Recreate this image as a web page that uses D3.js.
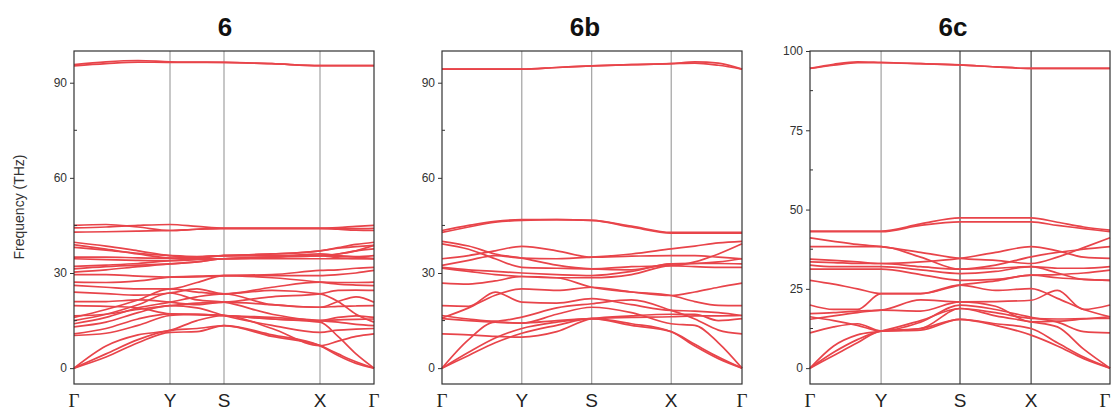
<!DOCTYPE html>
<html>
<head>
<meta charset="utf-8">
<script src="https://d3js.org/d3.v7.min.js"></script>
<style>
  body { margin: 0; background: #fff; }
  svg { display: block; }
</style>
</head>
<body>
<script type="text/javascript">

// ---- data ----
// high-symmetry labels along the path, and their path positions per panel
let kLabels = ["Γ", "Y", "S", "X", "Γ"];
let kpath6 = [0, 0.32, 0.5, 0.82, 1];
let kpath6b = [0, 0.266, 0.499, 0.764, 1];
let kpath6c = [0, 0.237, 0.5, 0.737, 1];

// each band: values (THz) at Γ, ΓY 1/3, ΓY 2/3, Y, YS 1/2, S, SX 1/2, X, XΓ 1/3, XΓ 2/3, Γ
let bands6 = [
  [0, 3.5, 8, 11.3, 11.5, 13.4, 10, 7.1, 4.5, 2, 0],
  [0, 4.5, 9, 11.9, 12.5, 13.4, 10.5, 7.1, 4, 1.5, 0],
  [0, 7, 10.5, 11.9, 15, 16.6, 12.5, 7.1, 8.5, 10, 10.8],
  [10.3, 11, 13.5, 16.6, 17, 16.6, 15.5, 14.5, 10, 4.5, 0],
  [10.8, 12.5, 15.5, 17.1, 17, 16.6, 16, 15, 14.5, 13.8, 13.4],
  [13, 14.5, 17.5, 19.7, 19, 16.6, 13.5, 11.3, 12, 12.3, 12.5],
  [14, 16, 19, 20.8, 22.5, 23.4, 20, 19.2, 19.5, 19.6, 19.7],
  [15, 17, 20, 23.7, 21.5, 20.8, 17, 15, 15.2, 15.4, 15.5],
  [16, 18.5, 21.5, 25, 24, 23.4, 24.5, 23.4, 21, 17, 14.5],
  [16.5, 17, 18.5, 19.7, 20.5, 20.8, 22.5, 23.4, 24.5, 24.6, 24.5],
  [19.7, 19.5, 19, 17.1, 16.8, 16.6, 15.5, 15, 16, 16.5, 16],
  [21, 21, 21.5, 20.8, 20, 20.8, 20, 19.2, 21, 22.5, 20.8],
  [24, 23.5, 23, 23.7, 25, 23.4, 25.5, 27.1, 27, 27, 27.1],
  [26.1, 25.5, 25, 25, 27, 29.2, 28.5, 27.1, 26.5, 26.2, 26],
  [27.1, 27, 27.5, 28.7, 29, 29.2, 29.2, 29.2, 29.5, 30, 30.8],
  [29.5, 29.5, 29, 28.7, 28.8, 29.2, 29.5, 30.8, 31, 31.5, 31.8],
  [30.3, 31, 32, 32.9, 33.5, 34.5, 34.5, 34.5, 34.5, 34.5, 34.5],
  [31.3, 32, 32.5, 32.9, 33.5, 34.5, 35, 35.5, 36, 37, 37.6],
  [32.1, 32.5, 33, 33.9, 34.5, 35.5, 35.5, 35.5, 35.3, 35.2, 35.5],
  [34.5, 34.2, 34, 33.9, 34.2, 34.5, 35, 36, 35.5, 35, 34.5],
  [35, 35, 34.8, 34.7, 35, 35.5, 36, 37, 37.8, 38.3, 38.7],
  [38.1, 37.2, 36.2, 35.5, 35.2, 35.5, 36, 37, 38, 39, 39.7],
  [38.9, 37.5, 36, 34.7, 34.5, 34.5, 35, 35.5, 34.8, 34.6, 34.5],
  [39.7, 38.5, 37, 35.5, 35, 35.5, 35.5, 35.5, 36, 37, 38.7],
  [42.9, 43, 43.2, 43.4, 43.8, 44.1, 44.1, 44.1, 43.8, 43.5, 43.4],
  [44.2, 44.5, 45, 45.3, 44.7, 44.1, 44.1, 44.1, 44.3, 44.7, 45],
  [45, 45.3, 44.5, 43.4, 43.8, 44.1, 44.1, 44.1, 44, 44, 44.1],
  [95.3, 96, 96.5, 96.4, 96.4, 96.4, 96, 95.4, 95.4, 95.4, 95.4],
  [95.7, 96.6, 97, 96.6, 96.5, 96.4, 96, 95.4, 95.4, 95.4, 95.4]
];

let bands6b = [
  [0, 4, 8, 11, 13.5, 15.6, 13.5, 11.5, 7.5, 3.5, 0],
  [0, 5, 9.5, 12.5, 14.5, 15.6, 14, 11.5, 7, 3, 0],
  [0, 9, 14.5, 14.2, 17, 19.2, 17.5, 14, 13.5, 8, 0],
  [10.8, 10.5, 10, 9.8, 11.5, 15.6, 16.5, 17, 17, 15, 15.6],
  [15.6, 15, 14.5, 14.2, 15, 15.6, 16, 16.2, 16.5, 16.5, 16.6],
  [16.6, 15.5, 14.8, 16.1, 19, 20.3, 21.5, 18.2, 15.5, 12, 10.8],
  [15.8, 19, 23, 25, 24.5, 25.5, 24, 22.9, 21, 19.8, 19.7],
  [19.7, 19.5, 24, 20.8, 20.5, 21.9, 20, 18.2, 18, 17.5, 16.6],
  [26.8, 26.5, 27.5, 28.9, 28.5, 25.5, 24, 22.9, 24, 25.5, 26.8],
  [31.5, 30.5, 29.5, 28.9, 28.5, 28.5, 29.5, 32.3, 32, 31.8, 31.8],
  [31.8, 31, 30.5, 30, 29.5, 29.2, 30.5, 32.9, 33, 33, 32.9],
  [32.4, 34, 35.5, 34.7, 34.5, 35, 36, 37.6, 38.5, 39.5, 40],
  [34.5, 35.5, 37, 38.4, 37, 35, 35.3, 35.5, 35.5, 35, 34.5],
  [40, 38.5, 36, 34.7, 32.5, 31.3, 31, 32.9, 33, 33.5, 34.5],
  [39.2, 37.5, 34.5, 31.8, 31.5, 31.3, 32, 32.3, 33.5, 36, 39.2],
  [42.8, 44.5, 46, 46.6, 46.8, 46.6, 44.5, 42.6, 42.6, 42.6, 42.6],
  [43.4, 45, 46.3, 46.8, 46.8, 46.6, 44.8, 42.8, 42.8, 42.8, 42.8],
  [94.3, 94.3, 94.3, 94.3, 94.8, 95.3, 95.7, 96, 96.2, 95.5, 94.3],
  [94.3, 94.3, 94.3, 94.3, 94.8, 95.3, 95.7, 96, 96.6, 96.2, 94.3]
];

let bands6c = [
  [0, 4, 8, 11.7, 12, 15.4, 13.5, 10.4, 7, 3, 0],
  [0, 5, 9, 11.7, 12.5, 15.4, 14, 12.5, 8, 3.5, 0],
  [0, 7, 10.5, 11.7, 15, 18.8, 16.5, 14.6, 13, 6, 0],
  [11.1, 13, 14, 11.7, 12.5, 18.8, 17.5, 15.7, 15.5, 15.6, 15.7],
  [16.2, 15, 13.5, 11.7, 14.5, 19.9, 18.5, 16, 14.5, 11.5, 11.1],
  [15.4, 16.5, 17.5, 18.3, 18, 20.9, 19.5, 14.6, 14.8, 15.5, 16.2],
  [17.2, 17.5, 18, 18.3, 21.5, 20.9, 21, 21.4, 24.5, 18.5, 19.9],
  [19.9, 18.5, 18.5, 23.5, 23.5, 26.2, 24.5, 25.1, 22, 18.5, 16.2],
  [27.7, 26.5, 25, 23.5, 23.5, 26.2, 27.5, 29.3, 28.5, 28, 27.7],
  [31.2, 31.2, 31.2, 31.2, 29.5, 27.7, 28, 29.3, 29.5, 30, 30.9],
  [32.5, 32, 32, 32, 31, 29.8, 30.5, 32, 31.5, 31.5, 32],
  [33.5, 33.3, 33, 33, 32, 31.2, 31.5, 32, 30, 28, 27.7],
  [34.4, 34, 33.5, 33, 33.5, 34.6, 36.5, 38.3, 37, 35, 34.6],
  [38.3, 38.3, 38.3, 38.3, 35, 31.2, 32.5, 35.1, 36.5, 37.5, 38.3],
  [41.1, 40, 39, 38.3, 36.5, 34.6, 34, 33, 35, 38, 41.1],
  [43.2, 43.2, 43.2, 43.2, 45.5, 47.4, 47.4, 47.4, 46, 44.5, 43.5],
  [43, 43, 43, 43, 45, 46.1, 46.1, 46.1, 45, 44, 43],
  [94.5, 95.5, 96.3, 96.3, 96, 95.6, 95, 94.5, 94.5, 94.5, 94.5],
  [94.5, 95.8, 96.6, 96.4, 96, 95.6, 95, 94.5, 94.5, 94.5, 94.5]
];

// samples per path segment (ΓY, YS, SX, XΓ)
let segFractions = [[0, 1/3, 2/3], [0, 0.5], [0, 0.5], [0, 1/3, 2/3, 1]];

let ticks6 = [0, 30, 60, 90];
let ticks6c = [0, 25, 50, 75, 100];
let minor6 = [15, 45, 75];
let minor6c = [12.5, 37.5, 62.5, 87.5];

let titles = ["6", "6b", "6c"];

// ---- layout ----
let width = 1113, height = 411;
let plotTop = 51, plotBottom = 384, plotW = 300;
let lineColor = "#e8444a";

let svg = d3.select("body").append("svg")
  .attr("width", width)
  .attr("height", height)
  .style("font-family", "Arial, 'Liberation Sans', sans-serif");

function samplePositions(kpath) {
  let xs = [];
  segFractions.forEach((fr, i) => {
    fr.forEach(f => xs.push(kpath[i] + f * (kpath[i + 1] - kpath[i])));
  });
  return xs;
}

function drawPanel(left, kpath, bands, ticks, minor, title, titleX, symColors) {
  let g = svg.append("g");
  let x = d3.scaleLinear().domain([0, 1]).range([left, left + plotW]);
  let y = d3.scaleLinear().domain([-5, 100]).range([plotBottom, plotTop]);

  // high symmetry vertical lines
  g.selectAll("line.sym")
    .data(kpath.slice(1, -1))
    .join("line")
      .attr("class", "sym")
      .attr("x1", d => x(d)).attr("x2", d => x(d))
      .attr("y1", plotTop).attr("y2", plotBottom)
      .style("stroke", (d, i) => symColors[i])
      .style("stroke-width", 1.1);

  // bands
  let xs = samplePositions(kpath);
  let line = d3.line()
    .x((d, i) => x(xs[i]))
    .y(d => y(d))
    .curve(d3.curveMonotoneX);

  g.selectAll("path.band")
    .data(bands)
    .join("path")
      .attr("class", "band")
      .attr("d", line)
      .style("fill", "none")
      .style("stroke", lineColor)
      .style("stroke-width", 1.7);

  // frame
  g.append("rect")
    .attr("x", left).attr("y", plotTop)
    .attr("width", plotW).attr("height", plotBottom - plotTop)
    .style("fill", "none")
    .style("stroke", "#333")
    .style("stroke-width", 1.2);

  // y axis (major ticks outward)
  let yAxis = d3.axisLeft(y).tickValues(ticks).tickSize(4).tickPadding(3);
  let ax = g.append("g").attr("transform", `translate(${left},0)`).call(yAxis);
  ax.select(".domain").remove();
  ax.selectAll("line").style("stroke", "#333");
  ax.selectAll("text")
    .style("font-size", "12px")
    .style("fill", "#333")
    .style("font-family", "Arial, 'Liberation Sans', sans-serif");

  // minor ticks inward
  g.selectAll("line.minor")
    .data(minor)
    .join("line")
      .attr("class", "minor")
      .attr("x1", left).attr("x2", left + 3)
      .attr("y1", d => y(d)).attr("y2", d => y(d))
      .style("stroke", "#333");

  // k-point labels (kept inside the page at the far right edge)
  g.selectAll("text.klabel")
    .data(kpath)
    .join("text")
      .attr("class", "klabel")
      .attr("x", d => Math.min(x(d), width - 8))
      .attr("y", 407)
      .attr("text-anchor", "middle")
      .style("font-size", "19px")
      .style("fill", "#222")
      .style("font-family", (d, i) => kLabels[i] === "Γ" ? "'Liberation Serif', 'Times New Roman', serif" : "Arial, 'Liberation Sans', sans-serif")
      .text((d, i) => kLabels[i]);

  // title
  g.append("text")
    .attr("x", titleX)
    .attr("y", 36)
    .attr("text-anchor", "middle")
    .style("font-size", "26px")
    .style("font-weight", "bold")
    .style("fill", "#111")
    .text(title);
}

drawPanel(74, kpath6, bands6, ticks6, minor6, titles[0], 225, ["#999", "#999", "#999"]);
drawPanel(442, kpath6b, bands6b, ticks6, minor6, titles[1], 585, ["#999", "#999", "#999"]);
drawPanel(810, kpath6c, bands6c, ticks6c, minor6c, titles[2], 953, ["#999", "#333", "#333"]);

// shared y label
svg.append("text")
  .attr("transform", "translate(24,207) rotate(-90)")
  .attr("text-anchor", "middle")
  .style("font-size", "14px")
  .style("fill", "#333")
  .text("Frequency (THz)");

</script>
</body>
</html>
